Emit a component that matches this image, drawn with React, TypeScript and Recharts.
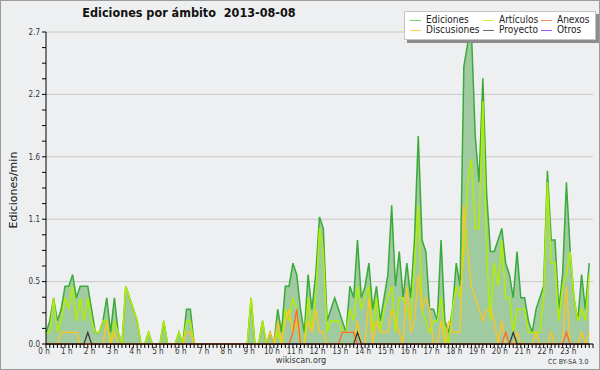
import React from 'react';
import { ComposedChart, Area, Line, XAxis, YAxis, CartesianGrid, Legend } from 'recharts';

// one value every 10 minutes, edits per minute
const hourLabels = [
  '0 h', '1 h', '2 h', '3 h', '4 h', '5 h', '6 h', '7 h', '8 h', '9 h', '10 h', '11 h',
  '12 h', '13 h', '14 h', '15 h', '16 h', '17 h', '18 h', '19 h', '20 h', '21 h', '22 h', '23 h',
];

const ediciones = [
  0.1, 0.2, 0.4, 0.2, 0.3, 0.5, 0.5, 0.6, 0.4, 0.5, 0.5, 0.5,
  0.3, 0.1, 0.1, 0.2, 0.4, 0.1, 0.4, 0.1, 0, 0.5, 0.4, 0.3,
  0.2, 0, 0, 0.1, 0, 0, 0, 0.2, 0, 0, 0, 0.1,
  0, 0.3, 0.3, 0, 0, 0, 0, 0, 0, 0, 0, 0,
  0, 0, 0, 0, 0, 0, 0.4, 0, 0, 0.2, 0, 0.1,
  0, 0.3, 0.1, 0.5, 0.5, 0.7, 0.6, 0.3, 0.1, 0.6, 0.3, 0.6,
  1.1, 1.0, 0.2, 0.3, 0.4, 0.3, 0.2, 0.1, 0.5, 0.4, 0.9, 0.4,
  0.5, 0.7, 0.3, 0.5, 0.2, 0.4, 0.6, 1.2, 0.5, 0.8, 0.4, 0.7,
  0.4, 0.9, 1.8, 0.9, 0.8, 0.3, 0.3, 0.2, 0.9, 0.2, 0.1, 0.3,
  0.7, 0.5, 2.4, 2.6, 2.7, 1.8, 1.4, 2.3, 1.3, 0.8, 0.8, 0.9,
  1.0, 0.7, 0.6, 0.4, 0.8, 0.4, 0.4, 0.2, 0.1, 0.3, 0.4, 0.5,
  1.5, 0.9, 0.9, 0.3, 0.6, 1.4, 0.8, 0.4, 0.2, 0.6, 0.3, 0.7,
];

const articulos = [
  0.1, 0.1, 0.4, 0.1, 0.2, 0.4, 0.3, 0.5, 0.2, 0.4, 0.2, 0.4,
  0.2, 0.1, 0.1, 0.2, 0.2, 0, 0.2, 0.1, 0, 0.5, 0.4, 0.3,
  0.2, 0, 0, 0.1, 0, 0, 0, 0.2, 0, 0, 0, 0.1,
  0, 0.2, 0.2, 0, 0, 0, 0, 0, 0, 0, 0, 0,
  0, 0, 0, 0, 0, 0, 0.4, 0, 0, 0.2, 0, 0,
  0, 0.1, 0, 0.3, 0.2, 0.4, 0.3, 0, 0, 0.4, 0.1, 0.4,
  1.0, 0.8, 0.1, 0.2, 0.2, 0.2, 0.1, 0.1, 0.3, 0.2, 0.5, 0.3,
  0.4, 0.5, 0.1, 0.4, 0.1, 0.3, 0.4, 0.5, 0.1, 0.4, 0.4, 0.3,
  0.2, 0.7, 1.2, 0.3, 0.2, 0.1, 0.2, 0.2, 0.4, 0.1, 0, 0.3,
  0.5, 0.4, 0.8, 1.4, 1.6, 1.0, 1.0, 2.1, 0.8, 0.2, 0.7, 0.5,
  0.9, 0.4, 0.4, 0.1, 0.3, 0.3, 0.3, 0.1, 0.1, 0.1, 0.1, 0.4,
  1.4, 0.7, 0.7, 0.2, 0.5, 0.6, 0.8, 0.4, 0.2, 0.3, 0.2, 0.6,
];

const discusiones = [
  0, 0, 0, 0, 0.1, 0.1, 0.1, 0.1, 0.1, 0, 0, 0,
  0, 0, 0, 0, 0.2, 0, 0.1, 0, 0, 0, 0, 0,
  0, 0, 0, 0, 0, 0, 0, 0, 0, 0, 0, 0,
  0, 0.1, 0.1, 0, 0, 0, 0, 0, 0, 0, 0, 0,
  0, 0, 0, 0, 0, 0, 0, 0, 0, 0, 0, 0.1,
  0, 0.2, 0, 0.2, 0.3, 0.1, 0.2, 0, 0, 0.2, 0.1, 0.3,
  0.1, 0.1, 0, 0, 0, 0, 0, 0, 0, 0, 0.2, 0,
  0, 0.4, 0, 0.2, 0.1, 0.1, 0.1, 0.3, 0.2, 0.1, 0, 0.5,
  0.1, 0.2, 0.6, 0.3, 0.4, 0.3, 0, 0, 0.2, 0, 0.2, 0.1,
  0.1, 0.1, 1.2, 0.8, 0.5, 0.4, 0.3, 0.2, 0.3, 0.3, 0.2, 0,
  0.2, 0, 0, 0, 0.1, 0, 0, 0, 0, 0.1, 0, 0,
  0, 0.1, 0, 0, 0, 0.5, 0, 0, 0, 0.1, 0, 0.1,
];

const anexos = [
  0, 0, 0, 0, 0, 0, 0, 0, 0, 0, 0, 0,
  0, 0, 0, 0, 0, 0, 0, 0, 0, 0, 0, 0,
  0, 0, 0, 0, 0, 0, 0, 0, 0, 0, 0, 0,
  0, 0, 0, 0, 0, 0, 0, 0, 0, 0, 0, 0,
  0, 0, 0, 0, 0, 0, 0, 0, 0, 0, 0, 0,
  0, 0, 0, 0, 0, 0.1, 0.3, 0, 0, 0, 0, 0,
  0, 0, 0, 0, 0, 0, 0.1, 0.1, 0.1, 0.1, 0, 0,
  0, 0, 0, 0, 0, 0, 0, 0, 0, 0, 0, 0,
  0, 0, 0, 0, 0, 0, 0, 0, 0, 0, 0, 0,
  0, 0, 0, 0, 0, 0, 0, 0, 0, 0, 0, 0,
  0, 0.1, 0, 0, 0, 0, 0, 0, 0, 0, 0, 0,
  0, 0, 0, 0, 0, 0.1, 0, 0, 0, 0, 0, 0,
];

const proyecto = [
  0, 0, 0, 0, 0, 0, 0, 0, 0, 0, 0, 0.1,
  0, 0, 0, 0, 0, 0, 0, 0, 0, 0, 0, 0,
  0, 0, 0, 0, 0, 0, 0, 0, 0, 0, 0, 0,
  0, 0, 0, 0, 0, 0, 0, 0, 0, 0, 0, 0,
  0, 0, 0, 0, 0, 0, 0, 0, 0, 0, 0, 0,
  0, 0, 0, 0, 0, 0, 0, 0, 0, 0, 0, 0,
  0, 0, 0, 0, 0, 0, 0, 0, 0, 0, 0.1, 0,
  0, 0, 0, 0, 0, 0, 0, 0, 0, 0, 0, 0,
  0, 0, 0, 0, 0, 0, 0, 0, 0, 0, 0, 0,
  0, 0, 0, 0, 0, 0, 0, 0, 0, 0, 0, 0,
  0, 0, 0, 0.1, 0, 0, 0, 0, 0, 0, 0, 0,
  0, 0, 0, 0, 0, 0, 0, 0, 0, 0, 0, 0,
];

const otros = ediciones.map(() => 0);

const yLabels = ['0.0', '0.5', '1.1', '1.6', '2.2', '2.7'];
const yMax = 2.7;

const FONT = "'DejaVu Sans Condensed', 'DejaVu Sans', sans-serif";

const series = [
  { key: 'ediciones', name: 'Ediciones', color: '#3aaa3a', legend: '#6fcf6f' },
  { key: 'articulos', name: 'Artículos', color: '#b2ee00', legend: '#c8f53a' },
  { key: 'anexos', name: 'Anexos', color: '#ff6a2a', legend: '#ff8a55' },
  { key: 'discusiones', name: 'Discusiones', color: '#ffc51e', legend: '#ffd040' },
  { key: 'proyecto', name: 'Proyecto', color: '#333333', legend: '#666666' },
  { key: 'otros', name: 'Otros', color: '#9a3cff', legend: '#a35cff' },
];

const data = ediciones.map((v, i) => ({
  i,
  ediciones: v,
  articulos: articulos[i],
  anexos: anexos[i],
  discusiones: discusiones[i],
  proyecto: proyecto[i],
  otros: otros[i],
}));

const xSlots = Array.from({ length: 145 }, (_, k) => k);
const yStep = yMax / 20;
const yTicks = Array.from({ length: 21 }, (_, k) => k * yStep);
const yMajor = yTicks.filter((_, k) => k % 4 === 0);

const legendCols = [5, 78, 136];

const renderLegend = () => (
  <div
    style={{
      position: 'relative',
      width: 190,
      height: 27,
      background: '#ffffff',
      border: '1px solid #c4c4c4',
      boxShadow: '3px 3px 0 #8c8c8c',
      fontFamily: FONT,
      fontSize: 10,
      color: '#222',
    }}
  >
    {series.map((s, k) => (
      <div
        key={s.key}
        style={{
          position: 'absolute',
          left: legendCols[k % 3],
          top: 3 + Math.floor(k / 3) * 10,
          height: 10,
          lineHeight: '10px',
          display: 'flex',
          alignItems: 'center',
          whiteSpace: 'nowrap',
        }}
      >
        <span style={{ display: 'inline-block', width: 11, borderTop: `1px solid ${s.legend}`, marginRight: 5 }} />
        {s.name}
      </div>
    ))}
  </div>
);

const gridRows = (props: any) => {
  const { yAxis, offset } = props;
  if (yAxis && typeof yAxis.scale === 'function') return yMajor.map((v) => yAxis.scale(v));
  return yMajor.map((v) => offset.top + offset.height * (1 - v / yMax));
};

export default function App() {
  return (
    <div
      style={{
        position: 'absolute',
        left: 0,
        top: 0,
        width: 600,
        height: 370,
        boxSizing: 'border-box',
        background: '#eeeff0',
        border: '1px solid #9c9c9c',
        overflow: 'hidden',
        fontFamily: FONT,
      }}
    >
      <div style={{ position: 'absolute', left: -1, top: 4, width: 378, textAlign: 'center', fontSize: 12.5, fontWeight: 'bold', color: '#111' }}>
        Ediciones por ámbito&nbsp;&nbsp;2013-08-08
      </div>
      <div
        style={{
          position: 'absolute',
          left: 12,
          top: 189,
          transform: 'translate(-50%, -50%) rotate(-90deg)',
          fontFamily: "'DejaVu Sans', sans-serif",
          fontSize: 11,
          whiteSpace: 'nowrap',
          color: '#111',
        }}
      >
        Ediciones/min
      </div>
      <div style={{ position: 'absolute', left: 250, width: 100, top: 354, textAlign: 'center', fontSize: 9, color: '#333' }}>
        wikiscan.org
      </div>
      <div style={{ position: 'absolute', left: 547, top: 357, fontSize: 7, color: '#333' }}>CC BY-SA 3.0</div>
      <ComposedChart
        width={600}
        height={370}
        data={data}
        margin={{ top: 32, right: 7, bottom: 0, left: 0 }}
        style={{ position: 'absolute', left: -1, top: -1 }}
      >
        <CartesianGrid vertical={false} stroke="#c8c8c8" horizontalCoordinatesGenerator={gridRows} />
        <XAxis
          type="number"
          dataKey="i"
          domain={[0, 144]}
          ticks={xSlots}
          interval={0}
          height={26}
          tickSize={4}
          tickMargin={0}
          axisLine={{ stroke: '#000' }}
          tickLine={{ stroke: '#000' }}
          tick={{ fontSize: 8, fill: '#333', fontFamily: FONT, dx: -2 }}
          tickFormatter={(v: number) => (v % 6 === 0 ? hourLabels[v / 6] ?? '' : '')}
        />
        <YAxis
          type="number"
          domain={[0, yMax]}
          ticks={yTicks}
          interval={0}
          width={46}
          tickSize={4}
          tickMargin={2}
          axisLine={{ stroke: '#000' }}
          tickLine={{ stroke: '#000' }}
          tick={{ fontSize: 8, fill: '#333', fontFamily: FONT }}
          tickFormatter={(v: number) => {
            const k = Math.round(v / yStep);
            return k % 4 === 0 ? yLabels[k / 4] : '';
          }}
        />
        <Legend
          layout="horizontal"
          verticalAlign="middle"
          align="center"
          content={renderLegend}
          wrapperStyle={{ position: 'absolute', top: 11, left: 404, width: 192, height: 30 }}
        />
        <Area
          type="linear"
          dataKey="ediciones"
          name="Ediciones"
          stroke="#3aaa3a"
          strokeWidth={1.5}
          fill="#a0cba0"
          fillOpacity={1}
          isAnimationActive={false}
        />
        <Line type="linear" dataKey="otros" name="Otros" stroke="#9a3cff" strokeWidth={1.2} dot={false} isAnimationActive={false} />
        <Line type="linear" dataKey="articulos" name="Artículos" stroke="#b2ee00" strokeWidth={1.5} dot={false} isAnimationActive={false} />
        <Line type="linear" dataKey="discusiones" name="Discusiones" stroke="#ffc51e" strokeWidth={1.3} dot={false} isAnimationActive={false} />
        <Line type="linear" dataKey="anexos" name="Anexos" stroke="#ff6a2a" strokeWidth={1.3} dot={false} isAnimationActive={false} />
        <Line type="linear" dataKey="proyecto" name="Proyecto" stroke="#333333" strokeWidth={1.2} dot={false} isAnimationActive={false} />
      </ComposedChart>
    </div>
  );
}
